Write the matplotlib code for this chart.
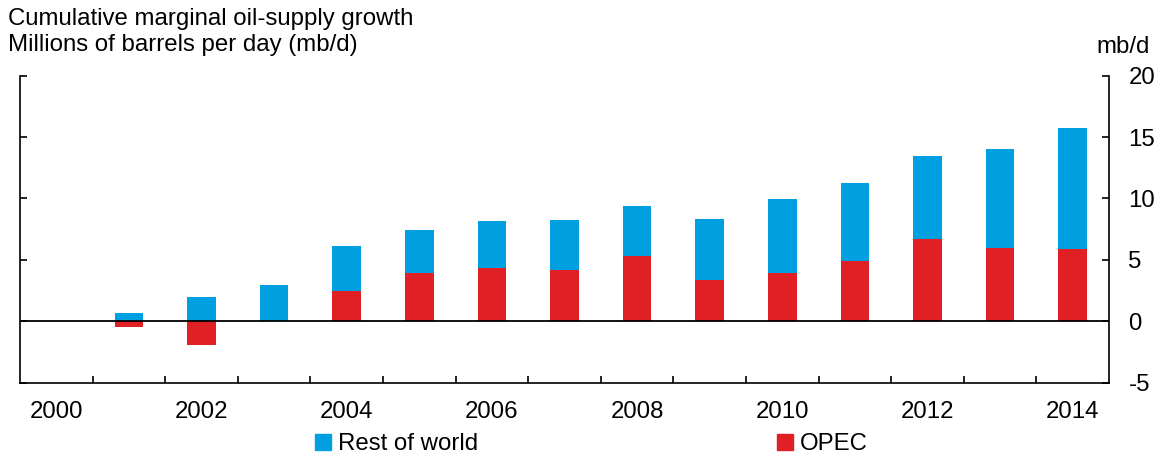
import numpy as np
import matplotlib.pyplot as plt
from matplotlib.patches import Patch

plt.rcParams['font.family'] = ['Liberation Sans', 'DejaVu Sans']
plt.rcParams['axes.unicode_minus'] = False

years = list(range(2000, 2015))
# cumulative growth since 2000, mb/d
opec = [0.0, -0.5, -1.97, 0.0, 2.48, 3.97, 4.3, 4.14, 5.33, 3.4, 3.9, 4.95, 6.69, 5.93, 5.88]
rest_of_world = [0.0, 0.67, 1.97, 2.95, 3.64, 3.46, 3.88, 4.13, 4.02, 4.92, 6.1, 6.3, 6.76, 8.09, 9.9]
tick_years = [str(y) if y % 2 == 0 else "" for y in years]

blue = "#009FDF"
red = "#E02024"
fs = 17.3

fig = plt.figure(figsize=(11.61, 4.55), dpi=100)
ax = fig.add_axes([20 / 1161, 1 - 382.7 / 455, (1109 - 20) / 1161, (382.7 - 75.7) / 455])

x = np.arange(len(years))
w = 0.395
ax.bar(x, opec, width=w, color=red, zorder=2)
ax.bar(x, rest_of_world, width=w, bottom=np.maximum(opec, 0), color=blue, zorder=2)
ax.axhline(0, color="black", lw=1.3, zorder=3)

ax.set_xlim(-0.5, len(years) - 0.5)
ax.set_ylim(-5, 20)

# ticks between the years, labels on the years
ax.set_xticks(x[:-1] + 0.5)
ax.set_xticklabels([])
ax.set_xticks(x, minor=True)
ax.set_xticklabels(tick_years, minor=True)
ax.tick_params(axis="x", which="major", direction="in", length=5, width=1.2)
ax.tick_params(axis="x", which="minor", length=0, pad=13, labelsize=fs)

ax.set_yticks([-5, 0, 5, 10, 15, 20])
ax.yaxis.tick_right()
ax.tick_params(axis="y", which="major", direction="in", length=5, width=1.2,
               left=True, right=True, labelleft=False, labelright=True,
               pad=14, labelsize=fs)

ax.spines["top"].set_visible(False)
for s in ["left", "right", "bottom"]:
    ax.spines[s].set_linewidth(1.2)

fig.text(8 / 1161, 1 - 8 / 455, "Cumulative marginal oil-supply growth\nMillions of barrels per day (mb/d)",
         ha="left", va="top", fontsize=fs, linespacing=1.22)
fig.text(1123 / 1161, 1 - 47 / 455, "mb/d", ha="center", va="center", fontsize=fs)

handles = [Patch(color=blue, label="Rest of world"), Patch(color=red, label="OPEC")]
fig.legend(handles=handles, loc="center left", bbox_to_anchor=(315 / 1161, 1 - 444 / 455),
           ncol=2, frameon=False, fontsize=fs, handlelength=0.65, handleheight=0.65,
           handletextpad=0.3, columnspacing=12.45, borderpad=0, borderaxespad=0)

fig.savefig("out.png", dpi=100)
